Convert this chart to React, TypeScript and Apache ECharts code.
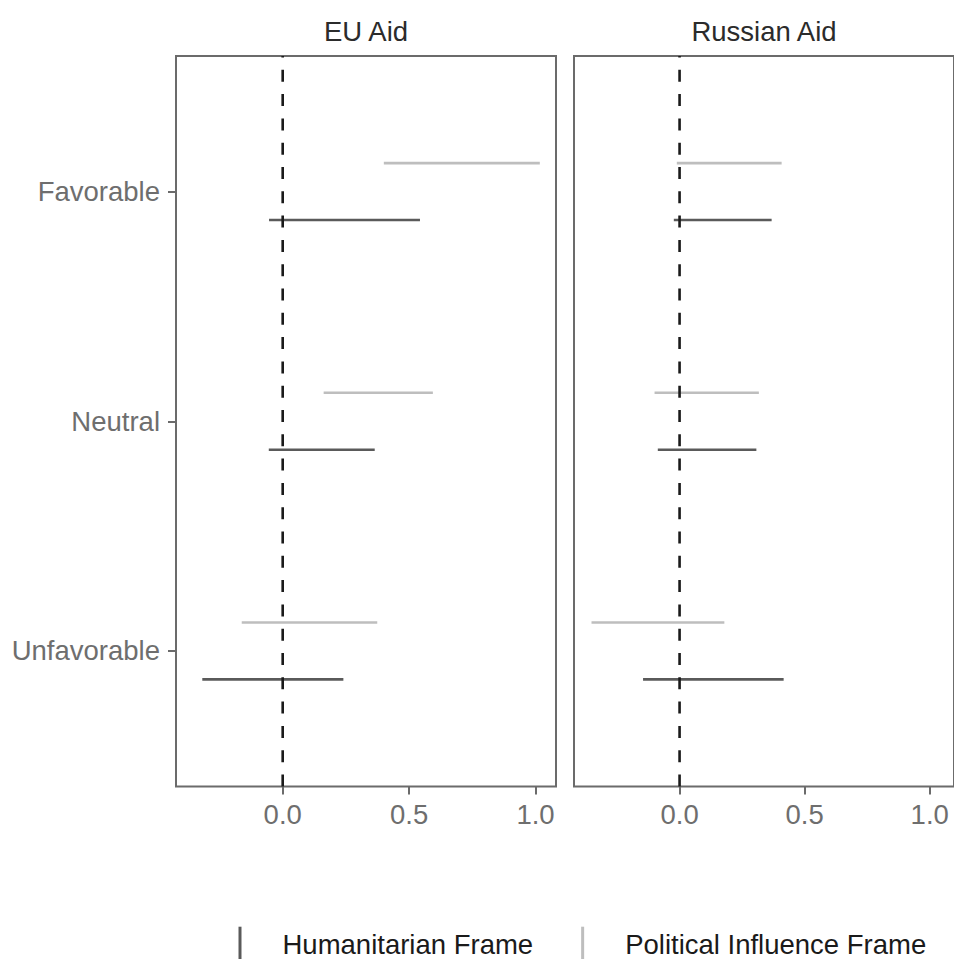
import React, { useEffect, useRef } from "react";
import * as echarts from "echarts";

const categories = ["Favorable", "Neutral", "Unfavorable"];
const panels = ["EU Aid", "Russian Aid"];
const frames = ["Humanitarian Frame", "Political Influence Frame"];
const xTicks = [0, 0.5, 1.0];

// [low, high] per category, per panel
const euPolitical = [[0.40, 1.017], [0.162, 0.594], [-0.162, 0.374]];
const euHumanitarian = [[-0.054, 0.543], [-0.055, 0.364], [-0.318, 0.240]];
const ruPolitical = [[-0.011, 0.408], [-0.100, 0.317], [-0.352, 0.179]];
const ruHumanitarian = [[-0.023, 0.368], [-0.087, 0.307], [-0.146, 0.416]];

const FONT = "'Liberation Sans', Arial, Helvetica, sans-serif";
const FS = 27.5;
const frameColors: Record<string, string> = {
  "Humanitarian Frame": "#5a5a5a",
  "Political Influence Frame": "#bebebe",
};
const frameOffset: Record<string, number> = {
  "Humanitarian Frame": 0.124,
  "Political Influence Frame": -0.124,
};
const X_MIN = -0.422;
const X_MAX = [1.081, 1.097];
const Y_MIN = 0.41;
const Y_MAX = 3.59;

function toRows(arr: number[][]) {
  return arr.map((d, i) => [d[0], d[1], categories.indexOf(categories[i]) + 1]);
}

export default function App() {
  const ref = useRef<HTMLDivElement>(null);
  useEffect(() => {
    if (!ref.current) return;
    const chart = echarts.init(ref.current, null, { renderer: "svg" });
    const gridDefs = [
      { left: 176, top: 56, width: 380, height: 730.5 },
      { left: 574, top: 56, width: 384, height: 730.5 },
    ];
    const grids = gridDefs.map((g) => ({
      ...g,
      show: true,
      borderColor: "#6b6b6b",
      borderWidth: 2,
      backgroundColor: "transparent",
      containLabel: false,
    }));
    const xAxes = gridDefs.map((_, i) => ({
      type: "value",
      gridIndex: i,
      min: X_MIN,
      max: X_MAX[i],
      position: "bottom",
      splitLine: { show: false },
      axisLine: { show: false, onZero: false },
      axisTick: {
        show: true,
        customValues: xTicks,
        length: 8,
        lineStyle: { color: "#6b6b6b", width: 2 },
      },
      axisLabel: {
        customValues: xTicks,
        formatter: (v: number) => v.toFixed(1),
        fontFamily: FONT,
        fontSize: FS,
        color: "#6e6e6e",
        margin: 14,
      },
    }));
    const yAxes = gridDefs.map((_, i) => ({
      type: "value",
      gridIndex: i,
      min: Y_MIN,
      max: Y_MAX,
      inverse: true,
      position: "left",
      splitLine: { show: false },
      axisLine: { show: false, onZero: false },
      axisTick: {
        show: i === 0,
        customValues: [1, 2, 3],
        length: 8,
        lineStyle: { color: "#6b6b6b", width: 2 },
      },
      axisLabel: {
        show: i === 0,
        customValues: [1, 2, 3],
        formatter: (v: number) => categories[Math.round(v) - 1] || "",
        fontFamily: FONT,
        fontSize: FS,
        color: "#6e6e6e",
        margin: 16,
      },
    }));

    const intervalSeries = (name: string, data: number[][], idx: number) => ({
      type: "custom",
      name,
      xAxisIndex: idx,
      yAxisIndex: idx,
      itemStyle: { color: frameColors[name] },
      encode: { x: [0, 1], y: 2 },
      data: toRows(data),
      z: 2,
      renderItem: (params: any, api: any) => {
        const lo = api.value(0);
        const hi = api.value(1);
        const y = api.value(2) + frameOffset[name];
        const p1 = api.coord([lo, y]);
        const p2 = api.coord([hi, y]);
        return {
          type: "line",
          shape: { x1: p1[0], y1: p1[1], x2: p2[0], y2: p2[1] },
          style: { stroke: frameColors[name], lineWidth: 2.7 },
        };
      },
    });

    const zeroLine = (idx: number) => ({
      type: "custom",
      name: "zero" + idx,
      xAxisIndex: idx,
      yAxisIndex: idx,
      data: [[0]],
      z: 5,
      silent: true,
      renderItem: (params: any, api: any) => {
        const p1 = api.coord([api.value(0), Y_MAX]);
        const p2 = api.coord([api.value(0), Y_MIN]);
        return {
          type: "line",
          shape: { x1: p1[0], y1: p1[1], x2: p2[0], y2: p2[1] },
          style: { stroke: "#1a1a1a", lineWidth: 2.6, lineDash: [12, 12.3] },
        };
      },
    });

    chart.setOption({
      animation: false,
      backgroundColor: "#ffffff",
      grid: grids,
      xAxis: xAxes,
      yAxis: yAxes,
      legend: {
        data: frames.map((f) => ({ name: f, itemStyle: { color: frameColors[f] } })),
        icon: "rect",
        itemWidth: 3,
        itemHeight: 36.6,
        left: 238.5,
        top: 926.7,
        padding: 0,
        itemGap: 48,
        textStyle: {
          fontFamily: FONT,
          fontSize: FS,
          lineHeight: 27,
          color: "#1a1a1a",
          padding: [0, 0, 0, 36],
        },
      },
      graphic: panels.map((p, i) => ({
        type: "text",
        x: [366, 764][i],
        y: 31,
        style: {
          text: p,
          fontFamily: FONT,
          fontSize: FS,
          fill: "#2b2b2b",
          align: "center",
          verticalAlign: "middle",
        },
      })),
      series: [
        intervalSeries("Humanitarian Frame", euHumanitarian, 0),
        intervalSeries("Political Influence Frame", euPolitical, 0),
        intervalSeries("Humanitarian Frame", ruHumanitarian, 1),
        intervalSeries("Political Influence Frame", ruPolitical, 1),
        zeroLine(0),
        zeroLine(1),
      ],
    });
    return () => chart.dispose();
  }, []);
  return (
    <div
      ref={ref}
      style={{ position: "absolute", left: 0, top: 0, width: 954, height: 959 }}
    />
  );
}
